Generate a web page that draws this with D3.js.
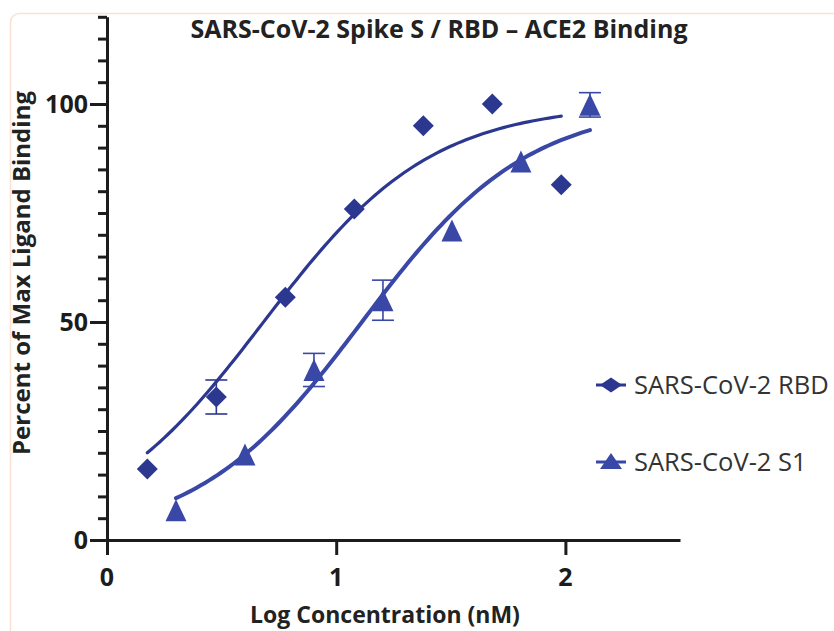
<!DOCTYPE html>
<html>
<head>
<meta charset="utf-8">
<title>SARS-CoV-2 Spike S / RBD - ACE2 Binding</title>
<script src="https://cdn.jsdelivr.net/npm/d3@7"></script>
<style>
    body { margin: 0; background: #fff; }
    svg { display: block; font-family: "Open Sans", Lato, sans-serif; }
</style>
</head>
<body>
<svg width="834" height="631"></svg>
<script>
// values (log10 nM, % of max binding)
const rbdLogConc = [0.176, 0.477, 0.778, 1.079, 1.380, 1.681, 1.982];
const rbdBinding = [16.3, 32.8, 55.7, 75.9, 95.0, 100.0, 81.5];
const rbdError   = [0, 3.9, 0, 0, 0, 0, 0];

const s1LogConc = [0.301, 0.602, 0.903, 1.204, 1.505, 1.806, 2.107];
const s1Binding = [6.8, 19.6, 39.0, 55.0, 71.0, 86.8, 99.8];
const s1Error   = [0, 0, 3.8, 4.6, 0, 0, 2.8];

// fitted dose-response curves (bottom, top, logEC50, hill slope) as drawn
const rbdFit = [0, 100, 0.683, 1.187];
const s1Fit  = [0, 100, 1.112, 1.201];

const xTicks = [0, 1, 2];
const yMajorTicks = [0, 50, 100];
const legendNames = ['SARS-CoV-2 RBD', 'SARS-CoV-2 S1'];

const svg = d3.select('svg');

// card outline
svg.append('rect')
    .attr('x', 10.5).attr('y', 13.5)
    .attr('width', 840).attr('height', 640)
    .attr('rx', 9)
    .attr('fill', 'none')
    .attr('stroke', '#fbe2d5')
    .attr('stroke-width', 1.5);

const xScale = d3.scaleLinear().domain([0, 2.5]).range([107, 680]);
const yScale = d3.scaleLinear().domain([0, 120]).range([540, 16.8]);

const navy = '#2c3790';
const blue = '#3947a6';

// axes
const yAxis = d3.axisLeft(yScale)
    .tickValues(d3.range(0, 121, 5))
    .tickSize(9)
    .tickSizeOuter(0)
    .tickFormat('');
const yAxisG = svg.append('g').attr('transform', `translate(${xScale(0)},0)`).call(yAxis);
yAxisG.selectAll('line').filter(d => yMajorTicks.includes(d)).attr('x2', -17);

const xAxis = d3.axisBottom(xScale)
    .tickValues(xTicks)
    .tickSize(15)
    .tickSizeOuter(0)
    .tickFormat('');
const xAxisG = svg.append('g').attr('transform', `translate(0,${yScale(0)})`).call(xAxis);

[yAxisG, xAxisG].forEach(g => {
    g.select('.domain').attr('stroke', '#1c1c1c').attr('stroke-width', 3);
    g.selectAll('line').attr('stroke', '#1c1c1c').attr('stroke-width', 3);
});

// tick labels
svg.append('g').selectAll('text').data(xTicks)
    .enter().append('text')
    .attr('x', d => xScale(d))
    .attr('y', 586)
    .attr('text-anchor', 'middle')
    .attr('fill', '#1c1c1c')
    .style('font-size', '25px')
    .style('font-weight', 'bold')
    .text(d => d);

svg.append('g').selectAll('text').data(yMajorTicks)
    .enter().append('text')
    .attr('x', 88)
    .attr('y', d => yScale(d) + 9)
    .attr('text-anchor', 'end')
    .attr('fill', '#1c1c1c')
    .style('font-size', '25px')
    .style('font-weight', 'bold')
    .text(d => d);

// titles
svg.append('text')
    .attr('x', 439).attr('y', 38)
    .attr('text-anchor', 'middle')
    .attr('fill', '#222')
    .style('font-size', '25px')
    .style('font-weight', 'bold')
    .text('SARS-CoV-2 Spike S / RBD \u2013 ACE2 Binding');

svg.append('text')
    .attr('transform', 'translate(30,273) rotate(-90)')
    .attr('text-anchor', 'middle')
    .attr('fill', '#222')
    .style('font-size', '24px')
    .style('font-weight', 'bold')
    .text('Percent of Max Ligand Binding');

svg.append('text')
    .attr('x', 385).attr('y', 623)
    .attr('text-anchor', 'middle')
    .attr('fill', '#222')
    .style('font-size', '23px')
    .style('font-weight', 'bold')
    .text('Log Concentration (nM)');

// fitted curves
const hill = (p, x) => p[0] + (p[1] - p[0]) / (1 + Math.pow(10, (p[2] - x) * p[3]));
const line = d3.line().x(d => xScale(d[0])).y(d => yScale(d[1]));

function drawCurve(p, xs, color, width) {
    const lo = d3.min(xs), hi = d3.max(xs);
    const pts = d3.range(0, 101).map(i => {
        const x = lo + (hi - lo) * i / 100;
        return [x, hill(p, x)];
    });
    svg.append('path').datum(pts)
        .attr('d', line)
        .attr('fill', 'none')
        .attr('stroke', color)
        .attr('stroke-width', width)
        .attr('stroke-linecap', 'round');
}
drawCurve(rbdFit, rbdLogConc, navy, 3.2);
drawCurve(s1Fit, s1LogConc, blue, 4);

// error bars
function drawErrors(xs, ys, es, color) {
    const data = xs.map((x, i) => ({ x, y: ys[i], e: es[i] })).filter(d => d.e > 0);
    const g = svg.append('g').attr('stroke', color).attr('stroke-width', 1.6);
    data.forEach(d => {
        const cx = xScale(d.x);
        g.append('line').attr('x1', cx).attr('x2', cx)
            .attr('y1', yScale(d.y + d.e)).attr('y2', yScale(d.y - d.e));
        [d.y + d.e, d.y - d.e].forEach(v => {
            g.append('line').attr('x1', cx - 11).attr('x2', cx + 11)
                .attr('y1', yScale(v)).attr('y2', yScale(v));
        });
    });
}
drawErrors(rbdLogConc, rbdBinding, rbdError, navy);
drawErrors(s1LogConc, s1Binding, s1Error, blue);

// markers
const diamond = 'M0,-10.5L10.5,0L0,10.5L-10.5,0Z';
const triangle = 'M0,-11L10.5,11L-10.5,11Z';

svg.append('g').selectAll('path')
    .data(rbdLogConc.map((x, i) => [x, rbdBinding[i]]))
    .enter().append('path')
    .attr('d', diamond)
    .attr('transform', d => `translate(${xScale(d[0])},${yScale(d[1])})`)
    .attr('fill', navy);

svg.append('g').selectAll('path')
    .data(s1LogConc.map((x, i) => [x, s1Binding[i]]))
    .enter().append('path')
    .attr('d', triangle)
    .attr('transform', d => `translate(${xScale(d[0])},${yScale(d[1])})`)
    .attr('fill', blue);

// legend
const legend = svg.append('g').selectAll('g').data(legendNames)
    .enter().append('g')
    .attr('transform', (d, i) => `translate(596,${385 + i * 77})`);
legend.append('line')
    .attr('x1', 0).attr('x2', 30)
    .attr('stroke', (d, i) => i === 0 ? navy : blue)
    .attr('stroke-width', 3);
legend.append('path')
    .attr('transform', 'translate(15,0)')
    .attr('d', (d, i) => i === 0 ? 'M0,-7.5L11,0L0,7.5L-11,0Z' : 'M0,-9L11,7L-11,7Z')
    .attr('fill', (d, i) => i === 0 ? navy : blue);
legend.append('text')
    .attr('x', 38)
    .attr('dy', '0.36em')
    .attr('fill', '#333')
    .style('font-size', '25.5px')
    .text(d => d);
</script>
</body>
</html>
